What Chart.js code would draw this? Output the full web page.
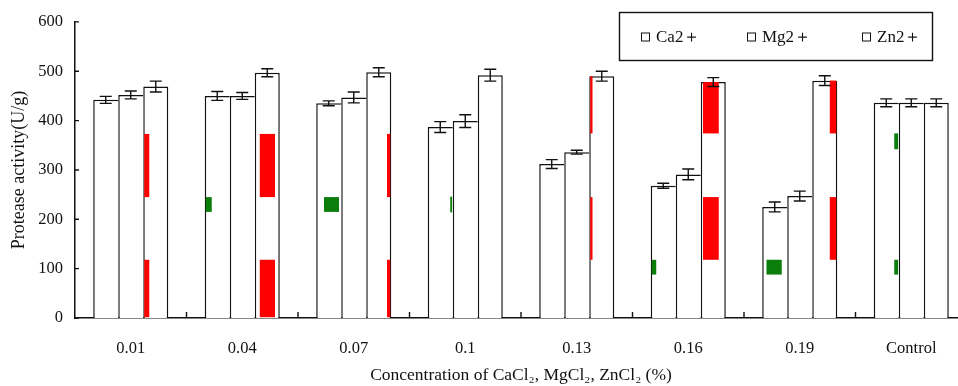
<!DOCTYPE html>
<html>
<head>
<meta charset="utf-8">
<script src="https://cdn.jsdelivr.net/npm/chart.js@4/dist/chart.umd.min.js"></script>
<style>
  html, body { margin: 0; padding: 0; background: #fff; overflow: hidden; }
  #wrap { width: 967px; height: 386px; }
</style>
</head>
<body>
<div id="wrap"><canvas id="chart" width="967" height="386"></canvas></div>
<script>
const categories = ['0.01', '0.04', '0.07', '0.1', '0.13', '0.16', '0.19', 'Control'];
const seriesNames = ['Ca2＋', 'Mg2＋', 'Zn2＋'];
const caValues = [442, 450, 435, 387, 312, 268, 225, 436];
const mgValues = [452, 450, 447, 399, 336, 291, 247, 436];
const znValues = [469, 497, 498, 492, 490, 478, 481, 436];
const caErrors = [7, 9, 5, 11, 9, 5, 10, 8];
const mgErrors = [8, 7, 11, 13, 4, 11, 10, 8];
const znErrors = [11, 8, 9, 12, 10, 9, 10, 8];
const yTicks = [0, 100, 200, 300, 400, 500, 600];

// coloured patches seen inside some bars: [category, series, from, to (share of bar width), low, high, colour]
const patches = [
  [0, 2, 0.04, 0.24, 245, 373, 'red'], [0, 2, 0.04, 0.24, 0, 118, 'red'],
  [1, 0, 0.00, 0.28, 215, 245, 'green'],
  [1, 2, 0.20, 0.81, 245, 373, 'red'], [1, 2, 0.20, 0.81, 0, 118, 'red'],
  [2, 0, 0.31, 0.91, 215, 245, 'green'],
  [2, 2, 0.83, 1.00, 245, 373, 'red'], [2, 2, 0.83, 1.00, 0, 118, 'red'],
  [3, 0, 0.90, 1.00, 214, 246, 'green'],
  [4, 2, 0.00, 0.13, 374, 490, 'red'], [4, 2, 0.00, 0.13, 118, 245, 'red'],
  [5, 0, 0.00, 0.22, 88, 118, 'green'],
  [5, 2, 0.09, 0.72, 374, 478, 'red'], [5, 2, 0.09, 0.72, 118, 245, 'red'],
  [6, 0, 0.17, 0.78, 88, 118, 'green'],
  [6, 2, 0.70, 1.00, 374, 481, 'red'], [6, 2, 0.70, 1.00, 118, 245, 'red'],
  [7, 0, 0.82, 1.00, 342, 374, 'green'], [7, 0, 0.82, 1.00, 88, 118, 'green']
];

const serif = '"Times New Roman", "Liberation Serif", serif';
Chart.defaults.font.family = serif;
Chart.defaults.color = '#111';

const errors = [caErrors, mgErrors, znErrors];

const patchPlugin = {
  id: 'patches',
  afterDatasetsDraw(chart) {
    const ctx = chart.ctx, y = chart.scales.y;
    ctx.save();
    patches.forEach(([cat, s, f0, f1, lo, hi, col]) => {
      const bar = chart.getDatasetMeta(s).data[cat];
      const left = bar.x - bar.width / 2;
      let x0 = left + f0 * bar.width, x1 = left + f1 * bar.width;
      x0 = Math.max(x0, left + 1);
      x1 = Math.min(x1, left + bar.width - (s === 2 ? 1 : 0.6));
      const y0 = y.getPixelForValue(hi), y1 = y.getPixelForValue(lo);
      ctx.fillStyle = col === 'red' ? '#ff0000' : '#0a7d0a';
      ctx.fillRect(x0, y0, x1 - x0, Math.min(y1, y.bottom - 0.8) - y0);
    });
    ctx.restore();
  }
};

const errorBarPlugin = {
  id: 'errorBars',
  afterDatasetsDraw(chart) {
    const ctx = chart.ctx, y = chart.scales.y;
    ctx.save();
    ctx.strokeStyle = '#111';
    ctx.lineWidth = 1.4;
    chart.data.datasets.forEach((ds, i) => {
      chart.getDatasetMeta(i).data.forEach((bar, j) => {
        const v = ds.data[j], e = errors[i][j];
        const top = y.getPixelForValue(v + e), bot = y.getPixelForValue(v - e);
        ctx.beginPath();
        ctx.moveTo(bar.x, top); ctx.lineTo(bar.x, bot);
        ctx.moveTo(bar.x - 6, top); ctx.lineTo(bar.x + 6, top);
        ctx.moveTo(bar.x - 6, bot); ctx.lineTo(bar.x + 6, bot);
        ctx.stroke();
      });
    });
    ctx.restore();
  }
};

// small inward tick marks on both axes
const innerTicksPlugin = {
  id: 'innerTicks',
  afterDraw(chart) {
    const ctx = chart.ctx, x = chart.scales.x, y = chart.scales.y;
    ctx.save();
    ctx.strokeStyle = '#111';
    ctx.lineWidth = 1.4;
    ctx.beginPath();
    yTicks.forEach(v => {
      const py = y.getPixelForValue(v);
      ctx.moveTo(y.right, py); ctx.lineTo(y.right + 4, py);
    });
    for (let i = 1; i < categories.length; i++) {
      const px = (x.getPixelForValue(i - 1) + x.getPixelForValue(i)) / 2;
      ctx.moveTo(px, x.top); ctx.lineTo(px, x.top - 6);
    }
    ctx.stroke();
    ctx.restore();
  }
};

const boxLegendPlugin = {
  id: 'boxLegend',
  afterDraw(chart, args, opts) {
    const ctx = chart.ctx;
    ctx.save();
    ctx.strokeStyle = '#111';
    ctx.lineWidth = 1.4;
    ctx.strokeRect(opts.left, opts.top, opts.width, opts.height);
    ctx.font = '17px ' + serif;
    ctx.textBaseline = 'middle';
    ctx.fillStyle = '#111';
    const cy = opts.top + opts.height / 2 + 1;
    chart.data.datasets.forEach((ds, i) => {
      const lx = opts.itemX[i];
      ctx.lineWidth = 1;
      ctx.strokeRect(lx + 0.5, cy - 4.5, 8, 8);
      ctx.fillText(ds.label, lx + 15, cy);
    });
    ctx.restore();
  }
};

const valueSets = [caValues, mgValues, znValues];
// neighbouring bars share one edge line
const edgeWidths = [
  { top: 1.5, left: 1.5, right: 0, bottom: 0 },
  { top: 1.5, left: 1.5, right: 0, bottom: 0 },
  { top: 1.5, left: 1.5, right: 1.5, bottom: 0 }
];

new Chart(document.getElementById('chart'), {
  type: 'bar',
  data: {
    labels: categories,
    datasets: seriesNames.map((name, i) => ({
      label: name,
      data: valueSets[i],
      backgroundColor: '#fff',
      borderColor: '#111',
      borderWidth: edgeWidths[i],
      borderSkipped: false,
      inflateAmount: 0
    }))
  },
  options: {
    responsive: false,
    animation: false,
    layout: { padding: { top: 20, left: 0, right: 0, bottom: 0 } },
    datasets: { bar: { categoryPercentage: 0.673, barPercentage: 1 } },
    plugins: {
      legend: { display: false },
      tooltip: { enabled: false },
      boxLegend: { left: 619.5, top: 12.5, width: 313, height: 48, itemX: [641, 747, 862] }
    },
    scales: {
      x: {
        grid: { display: false, drawTicks: false },
        border: { display: true, color: '#111', width: 1.5 },
        ticks: { padding: 21, font: { size: 16.5 }, color: '#111' },
        title: {
          display: true,
          text: 'Concentration of CaCl₂, MgCl₂, ZnCl₂ (%)',
          font: { size: 17.5 },
          color: '#111',
          padding: { top: 0, bottom: 0 }
        },
        afterFit(scale) { scale.height = 68; }
      },
      y: {
        min: 0,
        max: 600,
        grid: { display: false, drawTicks: false },
        border: { display: true, color: '#111', width: 1.5 },
        ticks: { stepSize: 100, padding: 12, font: { size: 16.5 }, color: '#111' },
        title: {
          display: true,
          text: 'Protease activity(U/g)',
          font: { size: 18 },
          color: '#111',
          padding: { top: 8, bottom: 0 }
        },
        afterFit(scale) { scale.width = 75; }
      }
    }
  },
  plugins: [patchPlugin, errorBarPlugin, innerTicksPlugin, boxLegendPlugin]
});
</script>
</body>
</html>
